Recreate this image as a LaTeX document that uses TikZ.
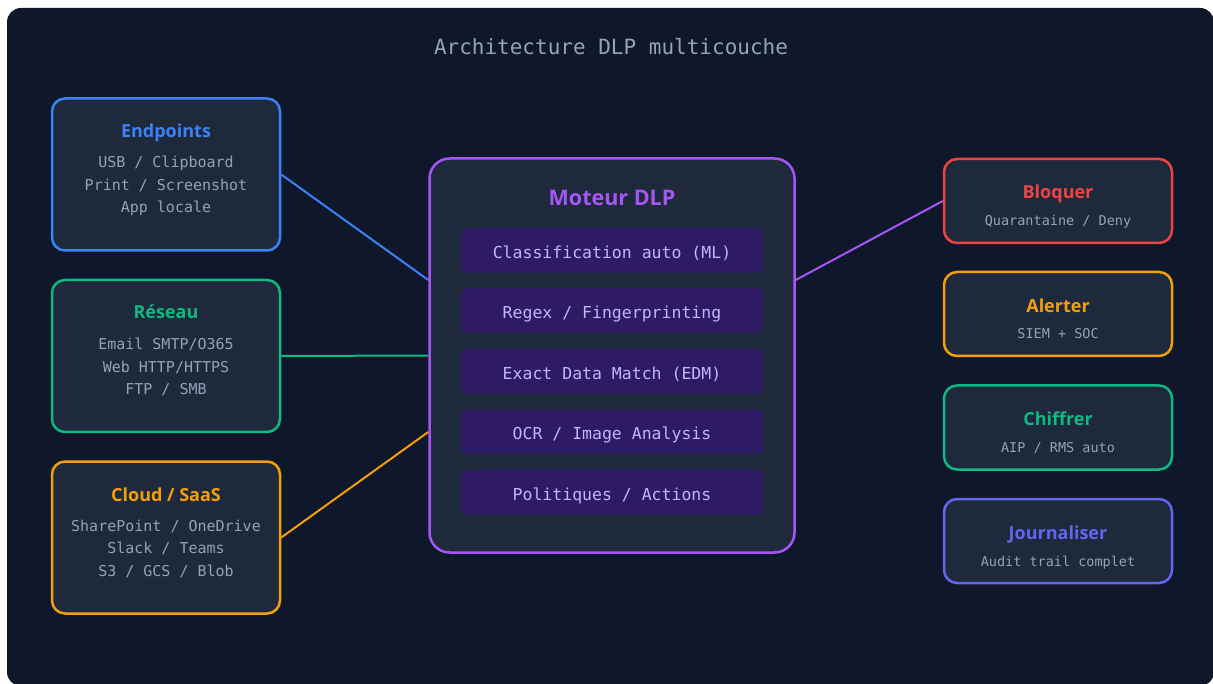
\documentclass[tikz,border=0pt]{standalone}
\usepackage{fontspec}
\setmainfont{Open Sans}
\newfontfamily\monofont{DejaVu Sans Mono}
\definecolor{bgdark}{HTML}{0F172A}
\definecolor{boxfill}{HTML}{1E293B}
\definecolor{txtgray}{HTML}{94A3B8}
\definecolor{cblue}{HTML}{3B82F6}
\definecolor{cgreen}{HTML}{10B981}
\definecolor{corange}{HTML}{F59E0B}
\definecolor{cpurple}{HTML}{A855F7}
\definecolor{cred}{HTML}{EF4444}
\definecolor{cindigo}{HTML}{6366F1}
\definecolor{engfill}{HTML}{2E1A65}
\definecolor{engtext}{HTML}{C4B5FD}
\pgfdeclarelayer{canvas}
\pgfdeclarelayer{links}
\pgfsetlayers{canvas,links,main}
\begin{document}
\begin{tikzpicture}[x=1pt,y=-1pt,
  card/.style={draw=#1, fill=boxfill, line width=2.5pt, rounded corners=13pt},
  srccard/.style={card=#1, minimum width=228pt, minimum height=152pt},
  actcard/.style={card=#1, minimum width=228pt, minimum height=84pt},
  enginebox/.style={fill=engfill, rounded corners=6pt, minimum width=302pt, minimum height=44.5pt},
  link/.style={draw=#1, line width=2pt},
  heading/.style={anchor=base, text=#1, font=\fontsize{18}{22}\selectfont\bfseries, inner sep=0pt},
  monoline/.style={anchor=base, text=txtgray, font=\monofont\fontsize{15}{18}\selectfont, inner sep=0pt},
  smallmono/.style={anchor=base, text=txtgray, font=\monofont\fontsize{13.5}{16}\selectfont, inner sep=0pt},
  enginetext/.style={anchor=base, text=engtext, font=\monofont\fontsize{16.5}{20}\selectfont, inner sep=0pt}
]
\useasboundingbox (0,0) rectangle (1213,684);
\begin{pgfonlayer}{canvas}
\clip (0,0) rectangle (1213,684);
\fill[bgdark, rounded corners=14pt] (7,8) rectangle (1214,686);
\end{pgfonlayer}

% title
\node[anchor=base, text=txtgray, font=\monofont\fontsize{21}{24}\selectfont, inner sep=0pt] (title) at (611,54.5) {Architecture DLP multicouche};

% boxes (shapes only, texts placed below)
\node[srccard=cblue] (ep) at (166,174.5) {};
\node[srccard=cgreen] (net) at (166,356) {};
\node[srccard=corange] (cloud) at (166,537.5) {};
\node[card=cpurple, rounded corners=20pt, minimum width=365pt, minimum height=394pt] (engine) at (612,355.5) {};
\node[actcard=cred] (block) at (1058,201) {};
\node[actcard=corange] (alert) at (1058,314) {};
\node[actcard=cgreen] (crypt) at (1058,427.5) {};
\node[actcard=cindigo] (log) at (1058,541) {};

% connectors, kept under the boxes
\begin{pgfonlayer}{links}
\draw[link=cblue] (ep.east) -- ([yshift=75.5pt]engine.west);
\draw[link=cgreen] (net.east) -- (engine.west);
\draw[link=corange] (cloud.east) -- ([yshift=-76.5pt]engine.west);
\draw[link=cpurple] ([yshift=75.5pt]engine.east) -- (block.west);
\end{pgfonlayer}

% source texts
\node[heading=cblue] (ep-h) at (166,138) {Endpoints};
\node[monoline] (ep-1) at (166,168) {USB / Clipboard};
\node[monoline] (ep-2) at (166,190.5) {Print / Screenshot};
\node[monoline] (ep-3) at (166,213) {App locale};

\node[heading=cgreen] (net-h) at (166,319) {Réseau};
\node[monoline] (net-1) at (166,350) {Email SMTP/O365};
\node[monoline] (net-2) at (166,372.5) {Web HTTP/HTTPS};
\node[monoline] (net-3) at (166,395) {FTP / SMB};

\node[heading=corange] (cloud-h) at (166,501) {Cloud / SaaS};
\node[monoline] (cloud-1) at (166,531) {SharePoint / OneDrive};
\node[monoline] (cloud-2) at (166,553.5) {Slack / Teams};
\node[monoline] (cloud-3) at (166,576) {S3 / GCS / Blob};

% engine
\node[anchor=base, text=cpurple, font=\fontsize{21.5}{26}\selectfont\bfseries, inner sep=0pt] (engine-h) at (612,206) {Moteur DLP};
\node[enginebox] (e1) at (612,250.5) {};
\node[enginebox] (e2) at (612,310.5) {};
\node[enginebox] (e3) at (612,371.2) {};
\node[enginebox] (e4) at (612,431.7) {};
\node[enginebox] (e5) at (612,492.2) {};
\node[enginetext] (e1-t) at (612,258.5) {Classification auto (ML)};
\node[enginetext] (e2-t) at (612,318.5) {Regex / Fingerprinting};
\node[enginetext] (e3-t) at (612,379.2) {Exact Data Match (EDM)};
\node[enginetext] (e4-t) at (612,439.7) {OCR / Image Analysis};
\node[enginetext] (e5-t) at (612,500.2) {Politiques / Actions};

% actions
\node[heading=cred] (block-h) at (1058,199) {Bloquer};
\node[smallmono] (block-s) at (1058,226) {Quarantaine / Deny};
\node[heading=corange] (alert-h) at (1058,312.5) {Alerter};
\node[smallmono] (alert-s) at (1058,339) {SIEM + SOC};
\node[heading=cgreen] (crypt-h) at (1058,425.5) {Chiffrer};
\node[smallmono] (crypt-s) at (1058,452.5) {AIP / RMS auto};
\node[heading=cindigo] (log-h) at (1058,539) {Journaliser};
\node[smallmono] (log-s) at (1058,566) {Audit trail complet};
\end{tikzpicture}
\end{document}
